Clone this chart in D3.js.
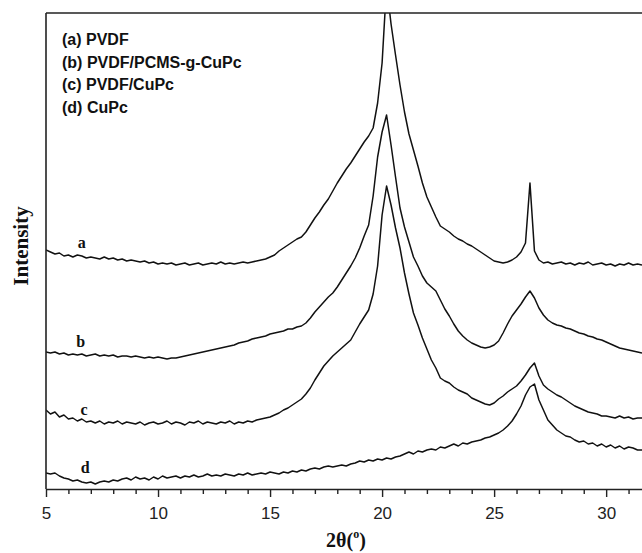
<!DOCTYPE html>
<html>
<head>
<meta charset="utf-8">
<script src="https://cdn.jsdelivr.net/npm/d3@7"></script>
<style>
  html, body { margin: 0; padding: 0; background: #fff; }
  svg { display: block; }
</style>
</head>
<body>
<svg id="chart" width="642" height="553"></svg>
<script>
// 2θ sampling positions (degrees)
const twoTheta = [
  5.0,5.2,5.4,5.6,5.8,6.0,6.2,6.4,6.6,6.8,7.0,7.2,7.4,7.6,7.8,8.0,8.2,8.4,8.6,8.8,
  9.0,9.2,9.4,9.6,9.8,10.0,10.2,10.4,10.6,10.8,11.0,11.2,11.4,11.6,11.8,12.0,12.2,12.4,12.6,12.8,
  13.0,13.2,13.4,13.6,13.8,14.0,14.2,14.4,14.6,14.8,15.0,15.2,15.4,15.6,15.8,16.0,16.2,16.4,16.6,16.8,
  17.0,17.2,17.4,17.6,17.8,18.0,18.2,18.4,18.6,18.8,19.0,19.2,19.4,19.6,19.8,20.0,20.2,20.4,20.6,20.8,
  21.0,21.2,21.4,21.6,21.8,22.0,22.2,22.4,22.6,22.8,23.0,23.2,23.4,23.6,23.8,24.0,24.2,24.4,24.6,24.8,
  25.0,25.2,25.4,25.6,25.8,26.0,26.2,26.4,26.6,26.8,27.0,27.2,27.4,27.6,27.8,28.0,28.2,28.4,28.6,28.8,
  29.0,29.2,29.4,29.6,29.8,30.0,30.2,30.4,30.6,30.8,31.0,31.2,31.4,31.6
];

// Intensities (a.u., stacked/offset as in the figure)
const pvdf = [
  239,237,235,236,233,234,232,234,233,231,232,231,230,232,230,231,229,230,228,229,
  228,227,228,226,227,225,226,225,226,224,225,226,224,225,226,224,225,226,225,227,
  225,226,225,226,227,226,227,228,229,230,232,234,238,241,244,247,250,252,257,264,
  271,277,284,290,298,306,313,320,326,333,340,347,353,361,386,426,504,465,434,404,
  377,355,339,323,306,292,282,272,263,260,257,253,250,248,245,243,240,237,234,231,
  228,227,226,227,229,232,237,246,306,238,229,226,227,225,226,227,225,226,224,226,
  225,227,224,225,226,224,225,223,225,224,226,224,225,224
];
const pvdfPcmsCuPc = [
  137,136,137,135,136,134,135,134,135,133,134,135,133,134,133,134,132,133,133,132,
  133,132,131,132,131,132,131,130,131,131,132,133,134,135,136,137,138,139,140,141,
  142,143,144,146,147,148,150,151,152,153,155,156,157,158,160,160,162,163,166,171,
  177,182,187,192,196,202,209,216,223,231,241,253,264,293,332,357,374,344,312,281,
  262,247,232,223,213,206,202,198,189,180,173,165,158,153,149,146,144,142,141,142,
  144,148,156,165,173,179,185,192,198,191,181,174,169,166,164,163,161,160,158,156,
  155,153,152,150,149,147,145,143,141,140,139,138,137,136
];
const pvdfCuPc = [
  79,75,77,72,74,70,71,68,70,67,68,66,68,65,67,66,68,65,67,66,
  65,67,64,66,67,65,66,68,65,67,66,64,67,66,68,65,67,66,65,67,
  66,68,65,67,66,68,67,69,70,71,72,74,76,79,81,84,87,90,95,101,
  109,116,123,128,133,137,141,145,149,157,165,172,179,195,223,274,303,284,261,241,
  216,195,176,164,151,140,129,121,111,108,106,102,99,97,95,91,89,87,85,84,
  86,90,93,97,100,103,108,114,121,126,113,104,100,97,94,92,89,86,83,81,
  79,77,76,75,73,73,72,71,73,71,72,70,71,71
];
const cuPc = [
  16,15,16,13,11,10,8,9,7,6,7,5,7,8,7,9,8,10,11,9,
  12,10,11,9,12,10,13,11,12,13,11,13,12,14,12,13,15,13,14,13,
  15,14,13,15,14,16,14,15,16,15,17,16,15,17,16,18,17,19,18,20,
  21,20,22,23,22,23,24,23,25,26,28,27,29,28,30,29,31,30,32,33,
  35,37,35,38,37,39,40,39,42,41,43,45,43,46,45,47,48,49,51,52,
  54,56,59,63,68,75,83,94,102,105,89,79,69,64,59,56,53,52,49,47,
  48,45,46,43,45,42,44,41,43,40,42,41,39,39
];

const seriesNames = ["a", "b", "c", "d"];
const seriesValues = [pvdf, pvdfPcmsCuPc, pvdfCuPc, cuPc];
const seriesLabelAt = [6.6, 6.55, 6.7, 6.75];          // 2θ where the letter sits
const seriesLabelLift = [241, 142, 74, 16];           // intensity of letter baseline
const legendLines = ["(a) PVDF", "(b) PVDF/PCMS-g-CuPc", "(c) PVDF/CuPc", "(d) CuPc"];
const xTicks = [5, 10, 15, 20, 25, 30];
const xMinorTicks = [6,7,8,9,11,12,13,14,16,17,18,19,21,22,23,24,26,27,28,29,31];

(function () {
const svg = d3.select("#chart");
const mL = 46, mT = 13, mB = 489, mR = 642;

const x = d3.scaleLinear().domain([5, 31.6]).range([mL, mR]);
const y = d3.scaleLinear().domain([0, 476]).range([mB, mT]);

svg.append("defs").append("clipPath").attr("id", "plotclip")
  .append("rect").attr("x", mL).attr("y", mT)
  .attr("width", mR - mL).attr("height", mB - mT);

// curves
const line = d3.line().x((d, i) => x(twoTheta[i])).y(d => y(d));
const g = svg.append("g").attr("clip-path", "url(#plotclip)");
seriesValues.forEach(vals => {
  g.append("path").datum(vals)
    .attr("d", line)
    .attr("fill", "none")
    .attr("stroke", "#111")
    .attr("stroke-width", 1.5)
    .attr("stroke-linejoin", "round");
});

// frame: top and left
svg.append("line").attr("x1", mL).attr("x2", mR).attr("y1", mT).attr("y2", mT)
  .attr("stroke", "#222").attr("stroke-width", 1.6);
svg.append("line").attr("x1", mL).attr("x2", mL).attr("y1", mT).attr("y2", mB)
  .attr("stroke", "#222").attr("stroke-width", 1.6);

// x axis (major)
const ax = svg.append("g").attr("transform", `translate(0,${mB})`)
  .call(d3.axisBottom(x).tickValues(xTicks).tickSize(8).tickSizeOuter(0).tickPadding(10));
ax.select(".domain").attr("stroke", "#222").attr("stroke-width", 1.6);
ax.selectAll(".tick line").attr("stroke", "#222").attr("stroke-width", 1.4);
ax.selectAll(".tick text")
  .attr("font-family", "Liberation Sans, Arial, sans-serif")
  .attr("font-size", 17).attr("fill", "#222");

// minor ticks
const axm = svg.append("g").attr("transform", `translate(0,${mB})`)
  .call(d3.axisBottom(x).tickValues(xMinorTicks).tickSize(5).tickFormat(""));
axm.select(".domain").remove();
axm.selectAll(".tick line").attr("stroke", "#222").attr("stroke-width", 1.4);

// axis titles
const xt = svg.append("text")
  .attr("x", 346).attr("y", 547)
  .attr("text-anchor", "middle")
  .attr("font-family", "Liberation Serif, Times New Roman, serif")
  .attr("font-weight", "bold").attr("font-size", 20).attr("fill", "#111");
xt.append("tspan").text("2θ(");
xt.append("tspan").text("o").attr("font-size", 12).attr("dy", -9);
xt.append("tspan").text(")").attr("dy", 9);

svg.append("text")
  .attr("transform", "translate(28,246) rotate(-90)")
  .attr("text-anchor", "middle")
  .attr("font-family", "Liberation Serif, Times New Roman, serif")
  .attr("font-weight", "bold").attr("font-size", 21).attr("fill", "#111")
  .text("Intensity");

// legend text
svg.append("g").selectAll("text").data(legendLines).join("text")
  .attr("x", 62).attr("y", (d, i) => 45 + i * 22.5)
  .attr("font-family", "Liberation Sans, Arial, sans-serif")
  .attr("font-weight", "bold").attr("font-size", 16).attr("fill", "#111")
  .text(d => d);

// curve letters
svg.append("g").selectAll("text").data(seriesNames).join("text")
  .attr("x", (d, i) => x(seriesLabelAt[i]))
  .attr("y", (d, i) => y(seriesLabelLift[i]))
  .attr("text-anchor", "middle")
  .attr("font-family", "Liberation Serif, Times New Roman, serif")
  .attr("font-weight", "bold").attr("font-size", 16).attr("fill", "#111")
  .text(d => d);
})();
</script>
</body>
</html>
